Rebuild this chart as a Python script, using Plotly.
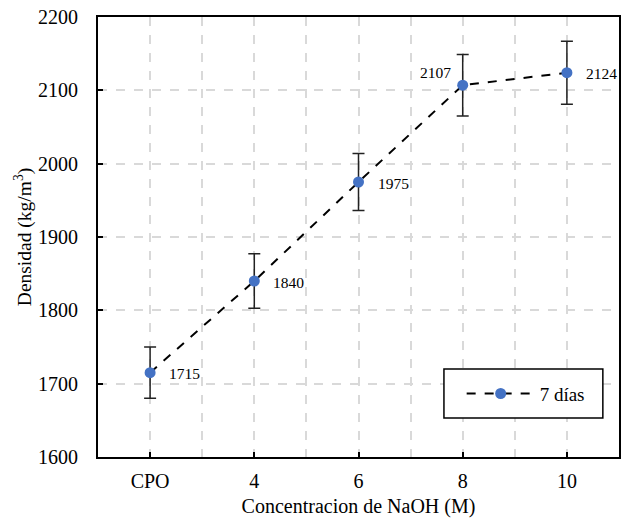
import plotly.graph_objects as go

categories = ["CPO", "4", "6", "8", "10"]
densidad = [1715, 1840, 1975, 2107, 2124]
error = [35, 37, 39, 42, 43]
label_pos = ["right", "right", "right", "left", "right"]

xpos = list(range(len(categories)))
FONT = "Liberation Serif, Times New Roman, serif"

fig = go.Figure()
fig.add_trace(go.Scatter(
    x=xpos, y=densidad, mode="lines+markers", name="7 días",
    line=dict(color="black", width=2, dash="dash"),
    marker=dict(color="#4472C4", size=11),
    error_y=dict(type="data", array=error, visible=True, color="#222222", thickness=1.5, width=6),
))

for xi, yi, pos in zip(xpos, densidad, label_pos):
    if pos == "right":
        fig.add_annotation(x=xi, y=yi, text=str(yi), showarrow=False, xanchor="left",
                           xshift=17, yshift=-1, font=dict(family=FONT, size=15.5, color="black"))
    else:
        fig.add_annotation(x=xi, y=yi, text=str(yi), showarrow=False, xanchor="right",
                           xshift=-10, yshift=13, font=dict(family=FONT, size=15.5, color="black"))

# legend frame
fig.add_shape(type="rect", xref="paper", yref="paper", x0=0.664, x1=0.969, y0=0.0886, y1=0.2,
              line=dict(color="black", width=1.5), fillcolor="white", layer="above")

fig.update_layout(
    width=626, height=521,
    margin=dict(l=98, r=7, t=17, b=64),
    paper_bgcolor="white", plot_bgcolor="white",
    font=dict(family=FONT, size=20, color="black"),
    showlegend=True,
    legend=dict(x=0.698, y=0.144, xanchor="left", yanchor="middle",
                borderwidth=0, bgcolor="rgba(0,0,0,0)",
                font=dict(family=FONT, size=19), itemwidth=68),
    xaxis=dict(
        range=[-0.5, 4.5], tickmode="array", tickvals=xpos, ticktext=categories,
        showline=True, linecolor="black", linewidth=2, mirror=True,
        ticks="inside", ticklen=5, tickcolor="black", tickwidth=1.5,
        showgrid=True, gridcolor="#d9d9d9", griddash="dash", gridwidth=1.5,
        minor=dict(tickmode="linear", tick0=-0.5, dtick=0.5, showgrid=True,
                   gridcolor="#d9d9d9", griddash="dash", gridwidth=1.5),
        zeroline=False, ticklabelstandoff=5, automargin=False,
        title=dict(text="Concentracion de NaOH (M)", font=dict(family=FONT, size=20), standoff=8),
        tickfont=dict(family=FONT, size=20),
    ),
    yaxis=dict(
        range=[1600, 2200], dtick=100,
        showline=True, linecolor="black", linewidth=2, mirror=True,
        ticks="inside", ticklen=5, tickcolor="black", tickwidth=1.5,
        showgrid=True, gridcolor="#d9d9d9", griddash="dash", gridwidth=1.5,
        zeroline=False, ticklabelstandoff=14, automargin=False,
        title=dict(text="Densidad (kg/m<sup>3</sup>)", font=dict(family=FONT, size=19.5), standoff=1),
        tickfont=dict(family=FONT, size=20),
    ),
)

fig.write_html("out.html", config={"displayModeBar": False},
               post_script="document.body.style.margin='0';")
